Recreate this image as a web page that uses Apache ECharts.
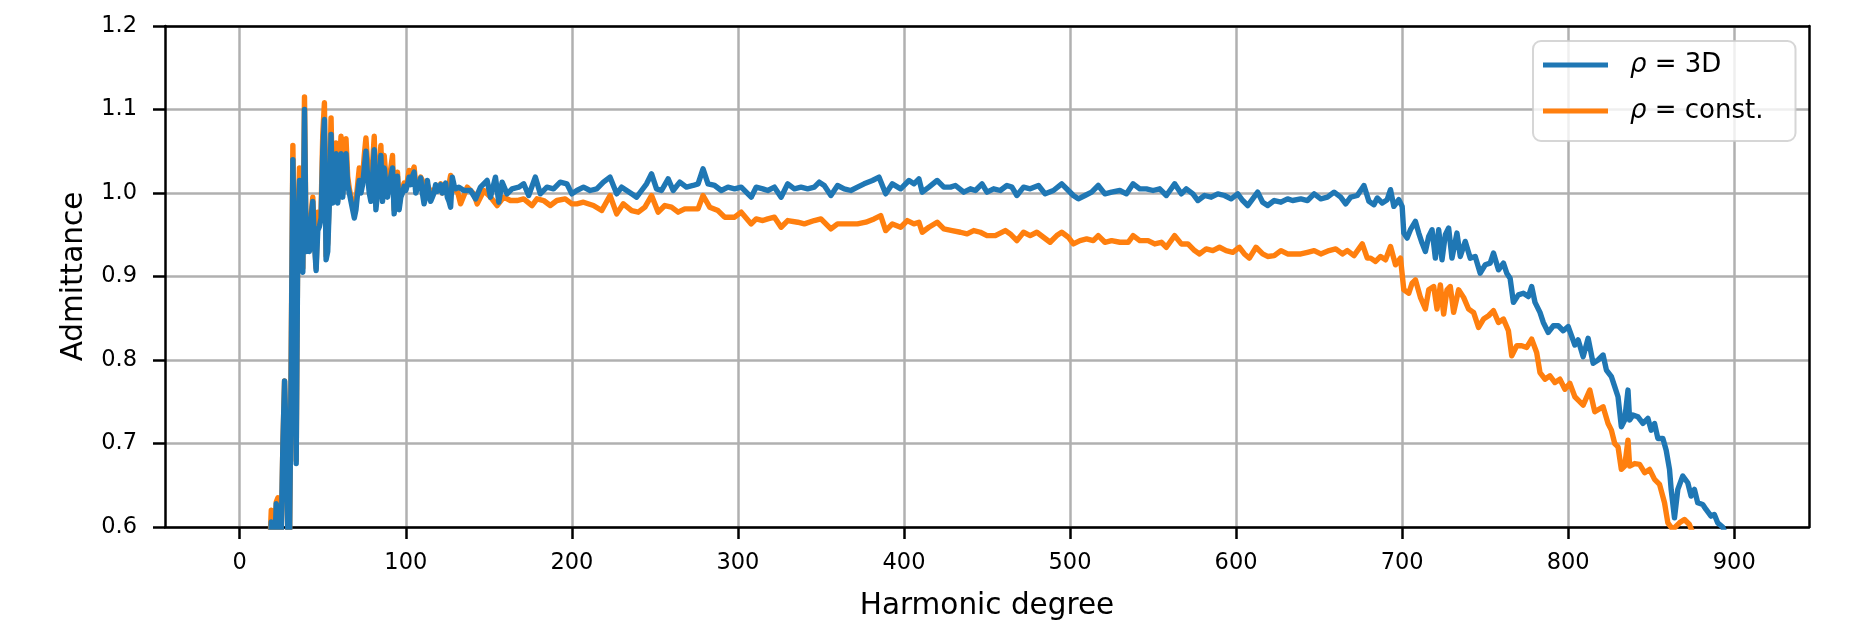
<!DOCTYPE html>
<html>
<head>
<meta charset="utf-8">
<title>Admittance</title>
<script src="https://cdn.jsdelivr.net/npm/echarts@6/dist/echarts.min.js"></script>
<style>
  html, body { margin: 0; padding: 0; background: #fff; }
  #chart { width: 1863px; height: 626px; }
</style>
</head>
<body>
<div id="chart"></div>
<script>
// tick positions
const xTicks = [0, 100, 200, 300, 400, 500, 600, 700, 800, 900];
const yTicks = [0.6, 0.7, 0.8, 0.9, 1.0, 1.1, 1.2];

// rho = 3D, [harmonic degree, admittance]
const rho3DRise = [
  [0,0.2],[5,0.3],[10,0.35],[14,0.38],[15,0.42],[16,0.46],[17,0.5],[18,0.55],[19,0.606],[20,0.55],
  [21,0.57],[22,0.628],[23,0.63],[24,0.58],[25,0.59],[26,0.7],[27,0.775],[28,0.7],[29,0.59],[30,0.58],
  [31,0.8],[32,1.04],[33,0.9],[34,0.676],[35,0.95],[36,1.015],[37,0.92],[38,0.905],[39,1.1],[40,0.93],
  [41,0.96],[42,0.93],[43,0.97],[44,0.99],[45,0.94],[46,0.907],[47,0.955],[48,0.96],[49,0.97],[50,1.05],
  [51,1.088],[52,0.92],[53,0.93],[54,0.99],[55,1.07],[56,0.988],[57,1.02],[58,1.047],[59,0.988],[60,1.02],
  [61,1.047],[62,0.995],[63,1.02],[64,1.047],[65,1.01],[66,1.0],[67,0.99],[68,0.98],[69,0.97],[70,0.98],
  [71,1.0],[72,1.015],[73,1.0],[74,1.01],[75,1.03],[76,1.05],[77,1.02],[78,1.0],[79,0.99],[80,1.02],
  [81,1.052],[82,0.98],[83,1.0],[84,1.02],[85,1.045],[86,0.99],[87,1.03],[88,1.01],[89,0.995],[90,1.01],
  [91,1.02],[92,1.03],[93,0.975],[94,1.0],[95,1.02],[96,0.98],[97,0.995],[98,1.0],[99,1.008],[100,1.003],
  [101,1.01],[102,1.019],[103,1.01],[104,1.02],[105,1.025],[106,1.0],[107,1.005],[108,1.01],[109,1.018],[110,1.0],
  [111,0.987],[112,0.995],[113,1.015],[114,1.0],[115,0.99],[116,0.995],[117,1.0],[118,1.01],[119,1.002],[120,1.005],
  [121,1.01],[122,1.0],[123,1.005],[124,1.012],[125,0.995],[126,0.99],[127,0.983],[128,1.019],[129,1.01],[130,1.005]
];
const rho3DFlat = [
  [132,1.007],[135,1.003],[139,1.003],[142,0.993],[145,1.007],[149,1.015],[151,0.995],[154,1.019],[156,0.989],[158,1.013],
  [161,0.999],[164,1.005],[168,1.007],[171,1.011],[174,0.997],[178,1.019],[181,0.999],[185,1.007],[189,1.005],[193,1.013],
  [197,1.011],[200,0.999],[203,1.003],[207,1.007],[211,1.003],[215,1.005],[219,1.013],[223,1.019],[227,0.999],[230,1.007],
  [236,0.999],[239,0.995],[242,1.003],[245,1.011],[248,1.023],[251,1.005],[254,1.003],[258,1.017],[261,1.003],[265,1.013],
  [269,1.007],[273,1.009],[276,1.011],[279,1.029],[282,1.011],[286,1.009],[290,1.003],[294,1.007],[298,1.005],[302,1.007],
  [308,0.995],[311,1.007],[315,1.005],[318,1.003],[322,1.007],[326,0.995],[330,1.011],[334,1.005],[338,1.007],[342,1.005],
  [346,1.007],[349,1.013],[352,1.009],[356,0.997],[360,1.009],[364,1.005],[368,1.003],[372,1.007],[376,1.011],[381,1.015],
  [385,1.019],[389,0.999],[393,1.011],[398,1.005],[403,1.015],[406,1.011],[409,1.017],[411,1.001],[415,1.007],[420,1.015],
  [424,1.007],[428,1.007],[431,1.009],[436,1.001],[440,1.005],[443,1.003],[447,1.011],[450,1.001],[454,1.005],[458,1.003],
  [462,1.009],[465,1.007],[468,0.997],[472,1.007],[476,1.005],[481,1.009],[485,0.999],[490,1.003],[495,1.011],[499,1.003],
  [502,0.997],[505,0.993],[509,0.997],[513,1.001],[517,1.009],[521,0.999],[525,1.001],[530,1.003],[534,0.999],[538,1.011],
  [542,1.005],[546,1.005],[550,1.003],[554,1.005],[558,0.997],[563,1.011],[567,0.999],[570,1.005],[574,0.999],[577,0.991],
  [581,0.997],[585,0.995],[589,0.999],[593,0.997],[597,0.993],[601,0.999],[604,0.991],[607,0.985],[610,0.993],[613,1.001],
  [616,0.989],[619,0.985],[623,0.991],[627,0.989],[631,0.993],[634,0.991],[639,0.993],[643,0.991],[647,0.999],[651,0.993],
  [655,0.995],[659,1.001],[663,0.995],[666,0.987],[669,0.995],[673,0.997],[677,1.009],[680,0.99],[683,0.986],[685,0.994],
  [688,0.988],[691,0.992],[693,1.004],[695,0.984],[698,0.992]
];
const rho3DDrop = [
  [700,0.984],[701,0.952],[703,0.946],[705,0.956],[708,0.966],[710,0.952],[712,0.94],[714,0.93],[716,0.948],[718,0.956],
  [720,0.922],[722,0.956],[724,0.92],[726,0.95],[728,0.958],[730,0.922],[733,0.952],[735,0.924],[738,0.942],[741,0.922],
  [744,0.924],[747,0.904],[750,0.914],[753,0.916],[755,0.928],[758,0.908],[761,0.916],[763,0.904],[765,0.898],[767,0.869],
  [770,0.878],[773,0.88],[776,0.876],[778,0.888],[780,0.869],[783,0.857],[785,0.845],[788,0.833],[791,0.841],[794,0.841],
  [797,0.835],[800,0.84],[804,0.818],[806,0.824],[809,0.804],[812,0.826],[815,0.796],[818,0.8],[821,0.806],[823,0.788],
  [826,0.78],[828,0.768],[830,0.756],[832,0.72],[834,0.728],[836,0.764],[837,0.728],[839,0.734],[842,0.732],[845,0.724],
  [848,0.73],[850,0.716],[852,0.724],[854,0.706],[857,0.706],[859,0.692],[861,0.669],[862,0.645],[864,0.611],[866,0.645],
  [869,0.661],[872,0.653],[874,0.637],[876,0.645],[878,0.629],[881,0.627],[883,0.621],[886,0.613],[888,0.615],[890,0.605],
  [893,0.6],[896,0.585],[900,0.57]
];

// rho = const.
const rhoConstRise = [
  [0,0.22],[5,0.32],[10,0.37],[14,0.4],[15,0.44],[16,0.48],[17,0.52],[18,0.57],[19,0.62],[20,0.56],
  [21,0.58],[22,0.63],[23,0.635],[24,0.585],[25,0.595],[26,0.7],[27,0.775],[28,0.7],[29,0.59],[30,0.585],
  [31,0.81],[32,1.057],[33,0.91],[34,0.68],[35,0.96],[36,1.03],[37,0.93],[38,0.91],[39,1.115],[40,0.935],
  [41,0.965],[42,0.935],[43,0.975],[44,0.995],[45,0.945],[46,0.91],[47,0.977],[48,0.97],[49,0.98],[50,1.07],
  [51,1.108],[52,0.925],[53,0.94],[54,1.0],[55,1.09],[56,0.99],[57,1.035],[58,1.06],[59,0.99],[60,1.03],
  [61,1.068],[62,1.0],[63,1.03],[64,1.065],[65,1.02],[66,1.005],[67,0.995],[68,0.985],[69,0.975],[70,0.99],
  [71,1.01],[72,1.03],[73,1.01],[74,1.02],[75,1.045],[76,1.066],[77,1.035],[78,1.01],[79,0.995],[80,1.035],
  [81,1.068],[82,0.985],[83,1.005],[84,1.03],[85,1.057],[86,0.995],[87,1.045],[88,1.02],[89,1.0],[90,1.015],
  [91,1.03],[92,1.045],[93,0.98],[94,1.005],[95,1.025],[96,0.985],[97,1.0],[98,1.005],[99,1.012],[100,1.008],
  [101,1.015],[102,1.027],[103,1.02],[104,1.025],[105,1.031],[106,1.01],[107,1.015],[108,1.012],[109,1.019],[110,1.015],
  [111,1.012],[112,1.011],[113,1.01],[114,1.005],[115,1.0],[116,1.003],[117,1.003],[118,1.005],[119,1.005],[120,1.006],
  [121,1.011],[122,1.0],[123,1.005],[124,1.01],[125,1.0],[126,1.01],[127,1.021],[128,1.015],[129,1.003],[130,1.003]
];
const rhoConstFlat = [
  [131,1.003],[133,0.987],[137,1.007],[141,0.999],[143,0.987],[147,1.003],[151,0.995],[155,0.985],[159,0.995],[163,0.991],
  [167,0.991],[171,0.993],[176,0.985],[179,0.993],[183,0.991],[187,0.985],[191,0.991],[196,0.993],[200,0.987],[203,0.987],
  [207,0.989],[213,0.985],[218,0.979],[223,0.997],[227,0.975],[231,0.987],[236,0.979],[240,0.977],[244,0.983],[248,0.997],
  [252,0.977],[256,0.985],[260,0.983],[264,0.977],[268,0.981],[272,0.981],[276,0.981],[279,0.997],[283,0.983],[288,0.979],
  [292,0.971],[298,0.971],[302,0.977],[308,0.963],[311,0.969],[315,0.967],[318,0.969],[322,0.971],[326,0.959],[330,0.967],
  [336,0.965],[340,0.963],[346,0.967],[350,0.969],[356,0.957],[360,0.963],[366,0.963],[372,0.963],[377,0.965],[382,0.969],
  [386,0.973],[389,0.955],[393,0.963],[398,0.959],[402,0.967],[406,0.963],[409,0.965],[411,0.953],[415,0.959],[420,0.965],
  [424,0.957],[429,0.955],[434,0.953],[438,0.951],[442,0.955],[446,0.953],[450,0.949],[455,0.949],[461,0.955],[464,0.951],
  [468,0.943],[472,0.953],[476,0.949],[480,0.953],[484,0.947],[488,0.941],[492,0.949],[495,0.953],[499,0.947],[502,0.939],
  [506,0.943],[510,0.945],[514,0.943],[517,0.949],[521,0.941],[525,0.943],[530,0.941],[535,0.941],[538,0.949],[542,0.943],
  [547,0.943],[551,0.939],[555,0.941],[558,0.935],[563,0.949],[567,0.939],[571,0.939],[575,0.931],[578,0.927],[582,0.933],
  [586,0.931],[590,0.935],[594,0.931],[598,0.929],[602,0.935],[605,0.927],[608,0.922],[612,0.935],[616,0.927],[619,0.924],
  [623,0.925],[627,0.931],[631,0.927],[634,0.927],[639,0.927],[643,0.929],[647,0.931],[651,0.927],[656,0.931],[660,0.933],
  [664,0.927],[667,0.931],[671,0.925],[676,0.939],[679,0.922],[681,0.922],[684,0.918],[687,0.924],[690,0.92],[693,0.936],
  [696,0.914],[699,0.922]
];
const rhoConstDrop = [
  [700,0.92],[701,0.884],[704,0.88],[706,0.892],[708,0.896],[711,0.875],[714,0.861],[716,0.884],[719,0.888],[721,0.861],
  [723,0.89],[725,0.855],[727,0.884],[729,0.888],[731,0.857],[734,0.884],[737,0.875],[740,0.861],[743,0.857],[746,0.839],
  [749,0.849],[752,0.853],[755,0.859],[758,0.845],[761,0.849],[764,0.835],[766,0.805],[769,0.817],[772,0.817],[775,0.815],
  [778,0.825],[781,0.809],[783,0.785],[786,0.777],[789,0.781],[792,0.773],[795,0.777],[798,0.765],[801,0.772],[804,0.756],
  [806,0.752],[809,0.746],[813,0.764],[816,0.738],[821,0.744],[824,0.724],[826,0.716],[828,0.7],[830,0.696],[832,0.669],
  [834,0.673],[836,0.704],[837,0.673],[840,0.676],[843,0.675],[846,0.665],[849,0.669],[852,0.657],[855,0.651],[858,0.629],
  [860,0.605],[863,0.597],[867,0.605],[870,0.609],[873,0.603],[875,0.593],[880,0.57],[890,0.55],[900,0.53]
];

const rho3D = rho3DRise.concat(rho3DFlat, rho3DDrop);
const rhoConst = rhoConstRise.concat(rhoConstFlat, rhoConstDrop);

const FONT = 'DejaVu Sans';
const chart = echarts.init(document.getElementById('chart'), null, { renderer: 'canvas' });

// frame axes: only a black spine on top / right
const spine = { show: true, onZero: false, lineStyle: { color: '#000', width: 2.5 } };

chart.setOption({
  animation: false,
  backgroundColor: '#ffffff',
  textStyle: { fontFamily: FONT, color: '#000' },
  grid: { left: 165, top: 26, width: 1644, height: 501, show: false },
  legend: {
    orient: 'vertical',
    left: 1533, top: 41,
    icon: 'rect',
    itemWidth: 65, itemHeight: 5,
    itemGap: 20,
    padding: [11, 32, 17, 10],
    backgroundColor: 'rgba(255,255,255,0.8)',
    borderColor: 'rgba(204,204,204,0.8)',
    borderWidth: 2,
    borderRadius: 8,
    data: ['ρ = 3D', 'ρ = const.'],
    formatter: name => name.replace('ρ', '{i|ρ}'),
    textStyle: {
      fontFamily: FONT, fontSize: 26, color: '#000', padding: [0, 0, 0, 17],
      rich: { i: { fontFamily: FONT, fontSize: 26, fontStyle: 'italic', color: '#000' } }
    }
  },
  xAxis: [{
    type: 'value',
    min: -45, max: 945,
    name: 'Harmonic degree',
    nameLocation: 'middle',
    nameGap: 64,
    nameTextStyle: { fontFamily: FONT, fontSize: 29.5, color: '#000' },
    axisLine: spine,
    axisTick: { show: true, customValues: xTicks, length: 12, lineStyle: { color: '#000', width: 2.5 } },
    axisLabel: { customValues: xTicks, fontFamily: FONT, fontSize: 22.5, color: '#000', margin: 25 },
    splitLine: { show: true, lineStyle: { color: '#b0b0b0', width: 2.5 } }
  }, {
    type: 'value', position: 'top',
    min: -45, max: 945,
    axisLine: spine, axisTick: { show: false }, axisLabel: { show: false }, splitLine: { show: false }
  }],
  yAxis: [{
    type: 'value',
    min: 0.6, max: 1.2,
    name: 'Admittance',
    nameLocation: 'middle',
    nameGap: 76,
    nameTextStyle: { fontFamily: FONT, fontSize: 29.5, color: '#000' },
    axisLine: spine,
    axisTick: { show: true, customValues: yTicks, length: 12, lineStyle: { color: '#000', width: 2.5 } },
    axisLabel: {
      customValues: yTicks, fontFamily: FONT, fontSize: 22.5, color: '#000', margin: 28,
      formatter: v => v.toFixed(1)
    },
    splitLine: { show: true, lineStyle: { color: '#b0b0b0', width: 2.5 } }
  }, {
    type: 'value', position: 'right',
    min: 0.6, max: 1.2,
    axisLine: spine, axisTick: { show: false }, axisLabel: { show: false }, splitLine: { show: false }
  }],
  series: [
    {
      name: 'ρ = 3D',
      type: 'line',
      data: rho3D,
      z: 3,
      symbol: 'none',
      clip: true,
      color: '#1f77b4',
      lineStyle: { color: '#1f77b4', width: 5.4, join: 'round' }
    },
    {
      name: 'ρ = const.',
      type: 'line',
      data: rhoConst,
      z: 2,
      symbol: 'none',
      clip: true,
      color: '#ff7f0e',
      lineStyle: { color: '#ff7f0e', width: 5.4, join: 'round' }
    }
  ]
});
</script>
</body>
</html>
